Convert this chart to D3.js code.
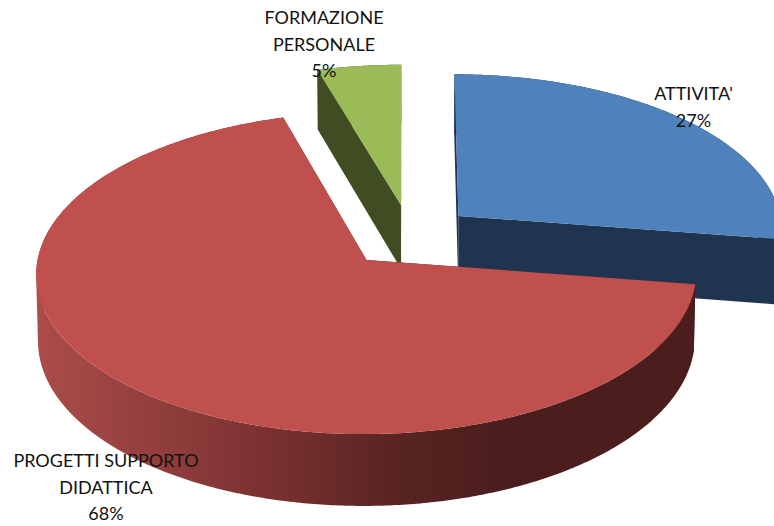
<!DOCTYPE html>
<html lang="en">
<head>
    <meta charset="UTF-8">
    <title>Pie 3D</title>
    <script src="https://d3js.org/d3.v7.min.js"></script>
    <style>
        html, body {margin:0;padding:0;background:#fff;overflow:hidden}
        svg {display:block}
        text {font-family:Lato,"Open Sans",sans-serif;font-size:18px;fill:#111}
    </style>
</head>
<body>
    <div id="chart"></div>
    <script>
        // slice values, labels are rounded from them
        var categories = ["ATTIVITA'", "PROGETTI SUPPORTO DIDATTICA", "FORMAZIONE PERSONALE"];
        var values = [27.4, 68.05, 4.55];
        var labelLines = [["ATTIVITA'"], ["PROGETTI SUPPORTO", "DIDATTICA"], ["FORMAZIONE", "PERSONALE"]];

        var topColors = ["#4f81bd", "#c0504d", "#9bbb59"];
        var sideColors = ["#1f344f", "url(#redSide)", "#404d23"];
        var cutColors = ["#1f344f", "#4b1e1d", "#404d23"];

        // how far each slice is pulled out, in pie radii
        var explode = [{x: 0.166, z: 0.281}, {x: -0.117, z: 0}, {x: -0.0125, z: 0.354}];
        var labelPos = [{x: 693.5, y: 100}, {x: 106, y: 467}, {x: 324, y: 24}];
        var drawOrder = [2, 0, 1];

        var w = 774, h = 526;
        var persp = 0.081, depth = 66, shrink = 0.995;

        var svg = d3.select("#chart").append("svg")
            .attr("width", w)
            .attr("height", h);

        var grad = svg.append("defs").append("linearGradient")
            .attr("id", "redSide")
            .attr("gradientUnits", "userSpaceOnUse")
            .attr("x1", 37).attr("x2", 695)
            .attr("y1", 0).attr("y2", 0);
        [[0, "#ab4d4a"], [0.34, "#7b3231"], [0.55, "#582422"], [0.7, "#4b1e1d"], [1, "#4b1e1d"]].forEach(function(s) {
            grad.append("stop").attr("offset", s[0]).attr("stop-color", s[1]);
        });

        var xScale = d3.scaleLinear().domain([-1, 1]).range([405 - 329, 405 + 329]);
        var yScale = d3.scaleLinear().domain([-1, 1]).range([260 + 160, 260 - 160]);
        var x0 = xScale(0), y0 = yScale(0);

        // disc coordinates to screen, low = bottom face of the pie
        function project(u, v, low) {
            var k = 1 + persp * v;
            var px = x0 + (xScale(u) - x0) / k;
            var py = y0 + (yScale(v) - y0) / k;
            if (low) {
                px = x0 + (px - x0) * shrink;
                py = py + depth / k;
            }
            return [px, py];
        }

        var pie = d3.pie().sort(null);
        var arcs = pie(values);
        var line = d3.line();

        function rim(i, low) {
            var a = arcs[i], e = explode[i], pts = [];
            var n = Math.ceil((a.endAngle - a.startAngle) / 0.01);
            d3.range(n + 1).forEach(function(j) {
                var t = a.startAngle + (a.endAngle - a.startAngle) * j / n;
                pts.push(project(Math.sin(t) + e.x, Math.cos(t) + e.z, low));
            });
            return pts;
        }

        drawOrder.forEach(function(i) {
            var e = explode[i];
            var topRim = rim(i, false), lowRim = rim(i, true);
            var apexTop = project(e.x, e.z, false), apexLow = project(e.x, e.z, true);
            var g = svg.append("g");

            // cut faces
            g.append("path")
                .attr("d", line([apexTop, topRim[0], lowRim[0], apexLow]) + "Z")
                .attr("fill", cutColors[i]);
            g.append("path")
                .attr("d", line([apexTop, topRim[topRim.length - 1], lowRim[lowRim.length - 1], apexLow]) + "Z")
                .attr("fill", cutColors[i]);

            // outer wall, one hull per rim step so all steps wind the same way
            var wall = "";
            d3.range(topRim.length - 1).forEach(function(j) {
                wall += line(d3.polygonHull([topRim[j], topRim[j + 1], lowRim[j + 1], lowRim[j]])) + "Z";
            });
            g.append("path")
                .attr("d", wall)
                .attr("fill", sideColors[i]);

            // top face
            g.append("path")
                .attr("d", line([apexTop].concat(topRim)) + "Z")
                .attr("fill", topColors[i]);
        });

        labelLines.forEach(function(lines, i) {
            var pct = Math.round(values[i]) + "%";
            lines.concat([pct]).forEach(function(t, j) {
                svg.append("text")
                    .attr("x", labelPos[i].x)
                    .attr("y", labelPos[i].y + j * 26.5)
                    .attr("text-anchor", "middle")
                    .text(t);
            });
        });
    </script>
</body>
</html>
